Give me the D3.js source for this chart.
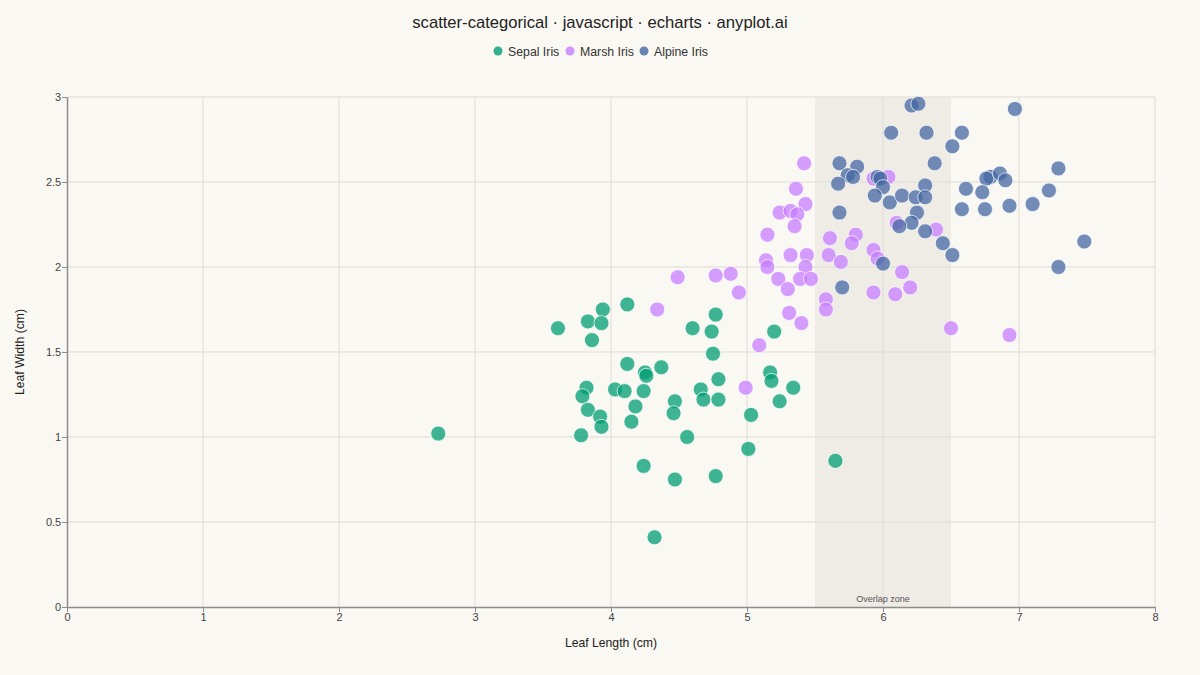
<!DOCTYPE html>
<html>
<head>
<meta charset="utf-8">
<script src="https://cdn.jsdelivr.net/npm/d3@7"></script>
<style>
  html, body { margin: 0; padding: 0; background: #faf8f2; }
  svg { display: block; font-family: "Liberation Sans", Arial, sans-serif; }
</style>
</head>
<body>
<svg id="chart" width="1200" height="675"></svg>
<script>
// species names and colours
const species = ['Sepal Iris', 'Marsh Iris', 'Alpine Iris']
const colors = ['#009E73', '#C77DFF', '#4467A3']

// [leaf length, leaf width]
const sepal = [
  [2.73, 1.02], [3.61, 1.64], [3.83, 1.68], [3.94, 1.75], [3.93, 1.67],
  [3.86, 1.57], [4.12, 1.78], [4.12, 1.43], [3.82, 1.29], [3.79, 1.24],
  [3.83, 1.16], [3.92, 1.12], [3.93, 1.06], [3.78, 1.01], [4.03, 1.28],
  [4.10, 1.27], [4.25, 1.38], [4.26, 1.36], [4.37, 1.41], [4.24, 1.27],
  [4.18, 1.18], [4.15, 1.09], [4.24, 0.83], [4.32, 0.41], [4.47, 0.75],
  [4.47, 1.21], [4.46, 1.14], [4.56, 1.00], [4.60, 1.64], [4.74, 1.62],
  [4.77, 1.72], [4.75, 1.49], [4.66, 1.28], [4.68, 1.22], [4.79, 1.34],
  [4.79, 1.22], [4.77, 0.77], [5.03, 1.13], [5.01, 0.93], [5.20, 1.62],
  [5.17, 1.38], [5.18, 1.33], [5.34, 1.29], [5.24, 1.21], [5.65, 0.86]
]
const marsh = [
  [5.42, 2.61], [5.36, 2.46], [5.43, 2.37], [5.24, 2.32], [5.32, 2.33],
  [5.37, 2.31], [5.35, 2.24], [5.15, 2.19], [5.61, 2.17], [5.32, 2.07],
  [5.44, 2.07], [5.60, 2.07], [5.14, 2.04], [5.15, 2.00], [5.43, 2.00],
  [5.69, 2.03], [4.49, 1.94], [4.77, 1.95], [4.88, 1.96], [5.23, 1.93],
  [5.39, 1.93], [5.47, 1.93], [5.30, 1.87], [4.94, 1.85], [5.58, 1.81],
  [5.58, 1.75], [4.34, 1.75], [5.31, 1.73], [5.40, 1.67], [5.09, 1.54],
  [4.99, 1.29], [5.93, 2.52], [6.04, 2.53], [6.10, 2.26], [6.39, 2.22],
  [5.80, 2.19], [5.77, 2.14], [5.93, 2.10], [5.96, 2.05], [6.14, 1.97],
  [6.20, 1.88], [5.93, 1.85], [6.09, 1.84], [6.50, 1.64], [6.93, 1.60]
]
const alpine = [
  [6.21, 2.95], [6.26, 2.96], [6.06, 2.79], [6.32, 2.79], [6.58, 2.79],
  [6.51, 2.71], [5.68, 2.61], [5.81, 2.59], [5.74, 2.54], [5.78, 2.53],
  [5.67, 2.49], [5.96, 2.53], [5.98, 2.52], [6.00, 2.47], [6.38, 2.61],
  [6.31, 2.48], [6.61, 2.46], [5.94, 2.42], [6.05, 2.38], [6.14, 2.42],
  [6.24, 2.41], [6.31, 2.41], [6.58, 2.34], [5.68, 2.32], [6.25, 2.32],
  [6.21, 2.26], [6.12, 2.24], [6.31, 2.21], [6.44, 2.14], [6.51, 2.07],
  [6.00, 2.02], [5.70, 1.88], [6.97, 2.93], [7.29, 2.58], [6.79, 2.53],
  [6.76, 2.52], [6.86, 2.55], [6.90, 2.51], [6.73, 2.44], [7.22, 2.45],
  [6.75, 2.34], [6.93, 2.36], [7.10, 2.37], [7.48, 2.15], [7.29, 2.00]
]
const seriesData = [sepal, marsh, alpine]

// shaded band on the x axis
const overlapZone = [5.5, 6.5]
const xTicks = [0, 1, 2, 3, 4, 5, 6, 7, 8]
const yTicks = [0, 0.5, 1, 1.5, 2, 2.5, 3]

const svg = d3.select('#chart')
const width = 1200
const margin = { top: 97, right: 45, bottom: 68, left: 67 }
const plotW = width - margin.left - margin.right
const plotH = 675 - margin.top - margin.bottom

const x = d3.scaleLinear().domain([0, 8]).range([0, plotW])
const y = d3.scaleLinear().domain([0, 3]).range([plotH, 0])

// title
svg.append('text')
  .attr('x', width / 2)
  .attr('y', 28)
  .attr('text-anchor', 'middle')
  .style('font-size', '16.6px')
  .style('fill', '#222')
  .text('scatter-categorical · javascript · echarts · anyplot.ai')

// legend
const legendItems = [
  { x: 498, name: species[0], color: colors[0] },
  { x: 570, name: species[1], color: colors[1] },
  { x: 644, name: species[2], color: colors[2] }
]
const lg = svg.append('g').attr('class', 'legend')
legendItems.forEach((d) => {
  lg.append('circle')
    .attr('cx', d.x)
    .attr('cy', 51)
    .attr('r', 4.5)
    .style('fill', d.color)
    .style('opacity', 0.8)
  lg.append('text')
    .attr('x', d.x + 10)
    .attr('y', 55.5)
    .style('font-size', '12.3px')
    .style('fill', '#333')
    .text(d.name)
})

const g = svg.append('g')
  .attr('transform', `translate(${margin.left},${margin.top})`)

// overlap band
g.append('rect')
  .attr('x', x(overlapZone[0]))
  .attr('y', 0)
  .attr('width', x(overlapZone[1]) - x(overlapZone[0]))
  .attr('height', plotH)
  .style('fill', '#efece5')

// grid
g.selectAll('line.vgrid')
  .data(xTicks.slice(1))
  .enter()
  .append('line')
  .attr('class', 'vgrid')
  .attr('x1', (d) => x(d))
  .attr('x2', (d) => x(d))
  .attr('y1', 0)
  .attr('y2', plotH)
  .style('stroke', '#dedbd4')
  .style('stroke-width', 1)
g.selectAll('line.hgrid')
  .data(yTicks.slice(1))
  .enter()
  .append('line')
  .attr('class', 'hgrid')
  .attr('x1', 0)
  .attr('x2', plotW)
  .attr('y1', (d) => y(d))
  .attr('y2', (d) => y(d))
  .style('stroke', '#dedbd4')
  .style('stroke-width', 1)

g.append('text')
  .attr('x', x((overlapZone[0] + overlapZone[1]) / 2))
  .attr('y', plotH - 5)
  .attr('text-anchor', 'middle')
  .style('font-size', '9px')
  .style('fill', '#555')
  .text('Overlap zone')

// axes
const xAxis = g.append('g')
  .attr('transform', `translate(0,${plotH})`)
  .call(d3.axisBottom(x).tickValues(xTicks).tickSize(5).tickSizeOuter(0))
const yAxis = g.append('g')
  .call(d3.axisLeft(y).tickValues(yTicks).tickSize(5).tickSizeOuter(0).tickFormat(d3.format('')))
;[xAxis, yAxis].forEach((a) => {
  a.select('.domain').style('stroke', '#8c8c8c').style('stroke-width', 1.5)
  a.selectAll('.tick line').style('stroke', '#8c8c8c')
  a.selectAll('.tick text')
    .style('font-size', '11px')
    .style('fill', '#444')
    .style('font-family', '"Liberation Sans", Arial, sans-serif')
})
xAxis.selectAll('.tick text').attr('dy', '0.55em')
yAxis.selectAll('.tick text').attr('dx', '0.2em')

// axis titles
svg.append('text')
  .attr('x', margin.left + plotW / 2)
  .attr('y', 647)
  .attr('text-anchor', 'middle')
  .style('font-size', '12.2px')
  .style('fill', '#222')
  .text('Leaf Length (cm)')
svg.append('text')
  .attr('transform', `translate(24,${margin.top + plotH / 2}) rotate(-90)`)
  .attr('text-anchor', 'middle')
  .style('font-size', '12.2px')
  .style('fill', '#222')
  .text('Leaf Width (cm)')

// points
g.selectAll('g.series')
  .data(seriesData)
  .enter()
  .append('g')
  .attr('class', 'series')
  .style('fill', (d, i) => colors[i])
  .selectAll('circle')
  .data((d) => d)
  .enter()
  .append('circle')
  .attr('cx', (d) => x(d[0]))
  .attr('cy', (d) => y(d[1]))
  .attr('r', 7.5)
  .style('fill-opacity', 0.75)
  .style('stroke', '#ffffff')
  .style('stroke-opacity', 0.7)
  .style('stroke-width', 1)
</script>
</body>
</html>
